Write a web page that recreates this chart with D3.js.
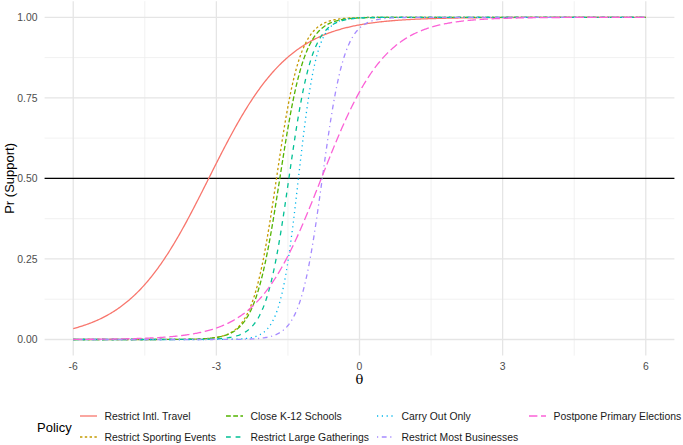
<!DOCTYPE html>
<html>
<head>
<meta charset="utf-8">
<script src="https://cdn.jsdelivr.net/npm/d3@7"></script>
<style>
  body { margin: 0; background: #fff; }
  svg text { font-family: "Liberation Sans", Arial, sans-serif; }
</style>
</head>
<body>
<svg id="chart" width="683" height="445"></svg>
<script>
// policies in legend order, with their 2PL item parameters
const policies = [
  "Restrict Intl. Travel",
  "Restrict Sporting Events",
  "Close K-12 Schools",
  "Restrict Large Gatherings",
  "Carry Out Only",
  "Restrict Most Businesses",
  "Postpone Primary Elections"
];
const discrimination = [1.18, 4.0, 3.8, 4.1, 5.2, 4.3, 1.5];
const difficulty = [-3.16, -1.74, -1.67, -1.48, -1.28, -0.78, -0.80];

const xTicks = [-6, -3, 0, 3, 6];
const yTicks = [0, 0.25, 0.5, 0.75, 1];
const thetaRange = [-6, 6];

const colors = ["#F8766D", "#C49A00", "#53B400", "#00C094", "#00B6EB", "#A58AFF", "#FB61D7"];
const dashes = ["", "2.4,2.4", "4.8,2.4", "4.8,4.8", "1.2,3.6", "1.2,3.6,4.8,3.6", "8.4,3.6"];

const svg = d3.select('#chart');

const panel = { left: 44.6, right: 674.4, top: 1.2, bottom: 355.6 };

const x = d3.scaleLinear()
  .domain([thetaRange[0] - 0.6, thetaRange[1] + 0.6])
  .range([panel.left, panel.right]);

const y = d3.scaleLinear()
  .domain([-0.05, 1.05])
  .range([panel.bottom, panel.top]);

// grid
const grid = svg.append('g').attr('class', 'grid');
const xMinor = [-4.5, -1.5, 1.5, 4.5];
const yMinor = [0.125, 0.375, 0.625, 0.875];

grid.selectAll('line.xminor').data(xMinor).enter().append('line')
  .attr('x1', d => x(d)).attr('x2', d => x(d))
  .attr('y1', panel.top).attr('y2', panel.bottom)
  .attr('stroke', "#EBEBEB").attr('stroke-width', 0.7);
grid.selectAll('line.yminor').data(yMinor).enter().append('line')
  .attr('y1', d => y(d)).attr('y2', d => y(d))
  .attr('x1', panel.left).attr('x2', panel.right)
  .attr('stroke', "#EBEBEB").attr('stroke-width', 0.7);
grid.selectAll('line.xmajor').data(xTicks).enter().append('line')
  .attr('x1', d => x(d)).attr('x2', d => x(d))
  .attr('y1', panel.top).attr('y2', panel.bottom)
  .attr('stroke', "#E5E5E5").attr('stroke-width', 1.3);
grid.selectAll('line.ymajor').data(yTicks).enter().append('line')
  .attr('y1', d => y(d)).attr('y2', d => y(d))
  .attr('x1', panel.left).attr('x2', panel.right)
  .attr('stroke', "#E5E5E5").attr('stroke-width', 1.3);

// reference line at 0.5
svg.append('line')
  .attr('x1', panel.left).attr('x2', panel.right)
  .attr('y1', y(0.5)).attr('y2', y(0.5))
  .attr('stroke', "#000").attr('stroke-width', 1.3);

// item characteristic curves
const thetas = d3.range(thetaRange[0], thetaRange[1] + 0.001, 0.02);
const line = d3.line()
  .x(d => x(d[0]))
  .y(d => y(d[1]));

policies.forEach((p, i) => {
  const pts = thetas.map(t => [t, 1 / (1 + Math.exp(-discrimination[i] * (t - difficulty[i])))]);
  svg.append('path')
    .datum(pts)
    .attr('d', line)
    .attr('fill', "none")
    .attr('stroke', colors[i])
    .attr('stroke-width', 1.3)
    .attr('stroke-dasharray', dashes[i] || null);
});

// axes (tick labels only, theme_minimal style)
svg.selectAll('text.xtick').data(xTicks).enter().append('text')
  .attr('x', d => x(d)).attr('y', 369.5)
  .attr('text-anchor', "middle")
  .attr('font-size', 10.4).attr('fill', "#4D4D4D")
  .text(d => d);

svg.selectAll('text.ytick').data(yTicks).enter().append('text')
  .attr('x', 37.5).attr('y', d => y(d) + 3.7)
  .attr('text-anchor', "end")
  .attr('font-size', 10.4).attr('fill', "#4D4D4D")
  .text(d => d3.format('.2f')(d));

svg.append('text')
  .attr('x', x(0)).attr('y', 384)
  .attr('text-anchor', "middle")
  .attr('font-size', 13)
  .style('font-family', '"DejaVu Serif", "Liberation Serif", serif')
  .text("θ");

svg.append('text')
  .attr('transform', `translate(14,${y(0.5)}) rotate(-90)`)
  .attr('text-anchor', "middle")
  .attr('font-size', 13)
  .text("Pr (Support)");

// legend: 2 rows, filled by column
const legend = svg.append('g').attr('class', 'legend');
const rowY = [416, 437];
const colX = [80, 226, 377, 529];

legend.append('text')
  .attr('x', 37).attr('y', 431.5)
  .attr('font-size', 13)
  .text("Policy");

policies.forEach((p, i) => {
  const col = Math.floor(i / 2), row = i % 2;
  const g = legend.append('g')
    .attr('transform', `translate(${colX[col]},${rowY[row]})`);
  g.append('line')
    .attr('x1', 0).attr('x2', 17)
    .attr('y1', 0).attr('y2', 0)
    .attr('stroke', colors[i])
    .attr('stroke-width', 1.3)
    .attr('stroke-dasharray', dashes[i] || null);
  g.append('text')
    .attr('x', 24.5).attr('y', 3.7)
    .attr('font-size', 10.4).attr('fill', "#1A1A1A")
    .text(p);
});
</script>
</body>
</html>
